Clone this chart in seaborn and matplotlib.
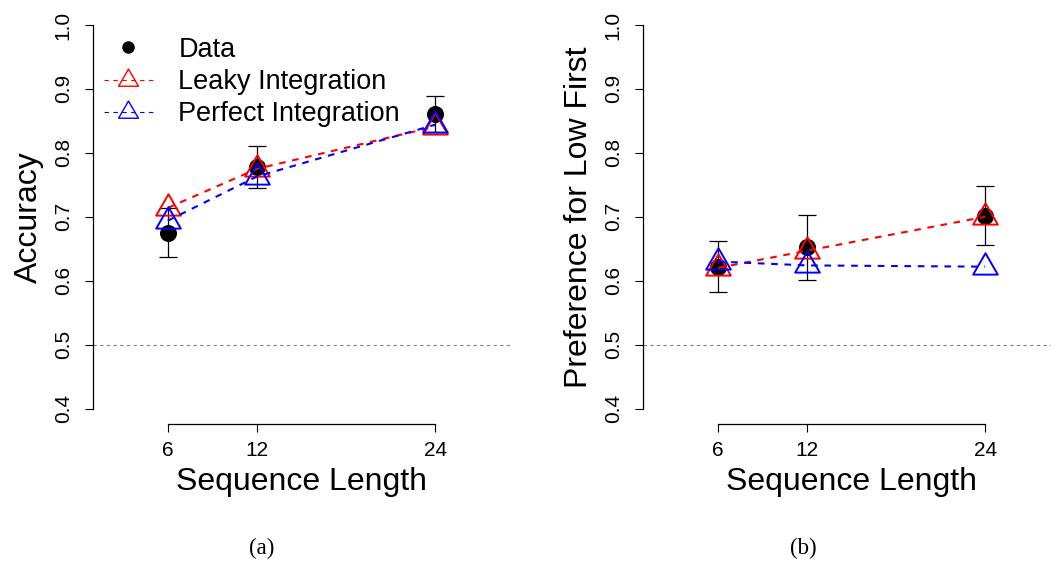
import numpy as np
import pandas as pd
import matplotlib
matplotlib.use("Agg")
import matplotlib.pyplot as plt
from matplotlib.lines import Line2D
from matplotlib.path import Path
import seaborn as sns

# ---- data -------------------------------------------------------------
seq_len = [6, 12, 24]

acc_data = [0.675, 0.778, 0.861]
acc_err = [0.038, 0.033, 0.028]
acc_leaky = [0.714, 0.775, 0.841]
acc_perfect = [0.694, 0.763, 0.844]

pref_data = [0.622, 0.652, 0.702]
pref_err = [0.040, 0.051, 0.046]
pref_leaky = [0.620, 0.647, 0.700]
pref_perfect = [0.630, 0.624, 0.622]

y_ticks = [0.4, 0.5, 0.6, 0.7, 0.8, 0.9, 1.0]
y_tick_labels = ["0.4", "0.5", "0.6", "0.7", "0.8", "0.9", "1.0"]

legend_labels = ["Data", "Leaky Integration", "Perfect Integration"]
panel_tags = ["(a)", "(b)"]
y_titles = ["Accuracy", "Preference for Low First"]
x_title = "Sequence Length"

# ---- style ------------------------------------------------------------
sns.set_style("ticks")
plt.rcParams["font.family"] = ["Liberation Sans", "DejaVu Sans"]
for key in ("text.color", "axes.labelcolor", "xtick.color", "ytick.color"):
    plt.rcParams[key] = "black"

# equilateral open triangle centred on its centroid
h = np.sqrt(3) / 2
tri = Path([(0, 2 * h / 3), (-0.5, -h / 3), (0.5, -h / 3), (0, 2 * h / 3)],
           [Path.MOVETO, Path.LINETO, Path.LINETO, Path.CLOSEPOLY])

W, H = 1051, 574
fig = plt.figure(figsize=(W / 100, H / 100), dpi=100)

ax_h = (424 - 9.6) / H
ax_w = 417 / W
axes = [fig.add_axes([93 / W, 1 - 424 / H, ax_w, ax_h]),
        fig.add_axes([643 / W, 1 - 424 / H, ax_w, ax_h])]

panels = [(acc_data, acc_err, acc_leaky, acc_perfect),
          (pref_data, pref_err, pref_leaky, pref_perfect)]

dash = (0, (3.2, 3.2))
for i, (ax, (obs, err, leaky, perfect)) in enumerate(zip(axes, panels)):
    ax.axhline(0.5, color="#808080", lw=0.8, ls=(0, (3, 3)), zorder=1)

    ax.errorbar(seq_len, obs, yerr=err, fmt="none", ecolor="black",
                elinewidth=0.9, capsize=6.8, capthick=0.9, zorder=2)
    sns.scatterplot(x=seq_len, y=obs, ax=ax, color="black", s=150,
                    linewidth=0, zorder=3, legend=False)

    for vals, col, z in [(leaky, "#ff0000", 4), (perfect, "#0000ff", 5)]:
        df = pd.DataFrame({"x": seq_len, "y": vals})
        sns.lineplot(data=df, x="x", y="y", ax=ax, color=col, lw=1.5,
                     linestyle=dash, marker=tri, markersize=20.5,
                     markerfacecolor="none", markeredgecolor=col,
                     markeredgewidth=1.4, errorbar=None, zorder=z,
                     legend=False)

    # R-style padded limits around 2..28 and 0.4..1.0
    ax.set_xlim(2 - 0.04 * 26, 28 + 0.04 * 26)
    ax.set_ylim(0.376, 1.024)
    ax.set_xticks(seq_len)
    ax.set_xticklabels([str(v) for v in seq_len])
    ax.set_yticks(y_ticks)
    ax.set_yticklabels(y_tick_labels)
    ax.tick_params(axis="both", labelsize=15, length=6.1, width=0.8,
                   color="black", pad=6)
    ax.tick_params(axis="y", labelrotation=90, pad=8.5)
    for lab in ax.get_yticklabels():
        lab.set_va("center")

    sns.despine(ax=ax)
    ax.spines["left"].set_bounds(0.4, 1.0)
    ax.spines["bottom"].set_bounds(6, 24)
    for s in ("left", "bottom"):
        ax.spines[s].set_linewidth(0.9)
        ax.spines[s].set_color("black")

    ax.set_xlabel(x_title, fontsize=23, labelpad=5)
    ax.set_ylabel(y_titles[i], fontsize=23, labelpad=7)

    fig.text([262, 803][i] / W, 1 - 548 / H, panel_tags[i],
             family="Liberation Serif", fontsize=16.5, ha="center", va="center")

handles = [
    Line2D([], [], ls="none", marker="o", color="black", markersize=9,
           markeredgewidth=0),
    Line2D([], [], color="#ff0000", lw=0.8, ls=(0, (4, 4)), marker=tri,
           markersize=16.5, markerfacecolor="none", markeredgecolor="#ff0000",
           markeredgewidth=1.0),
    Line2D([], [], color="#0000ff", lw=0.8, ls=(0, (4, 4)), marker=tri,
           markersize=16.5, markerfacecolor="none", markeredgecolor="#0000ff",
           markeredgewidth=1.0),
]
axes[0].legend(handles, legend_labels, loc="upper left",
               bbox_to_anchor=(0.026, 0.934), borderaxespad=0, borderpad=0,
               frameon=False, fontsize=19.5, handlelength=1.8,
               handletextpad=0.95, labelspacing=0.23)

fig.savefig("out.png", dpi=100)
